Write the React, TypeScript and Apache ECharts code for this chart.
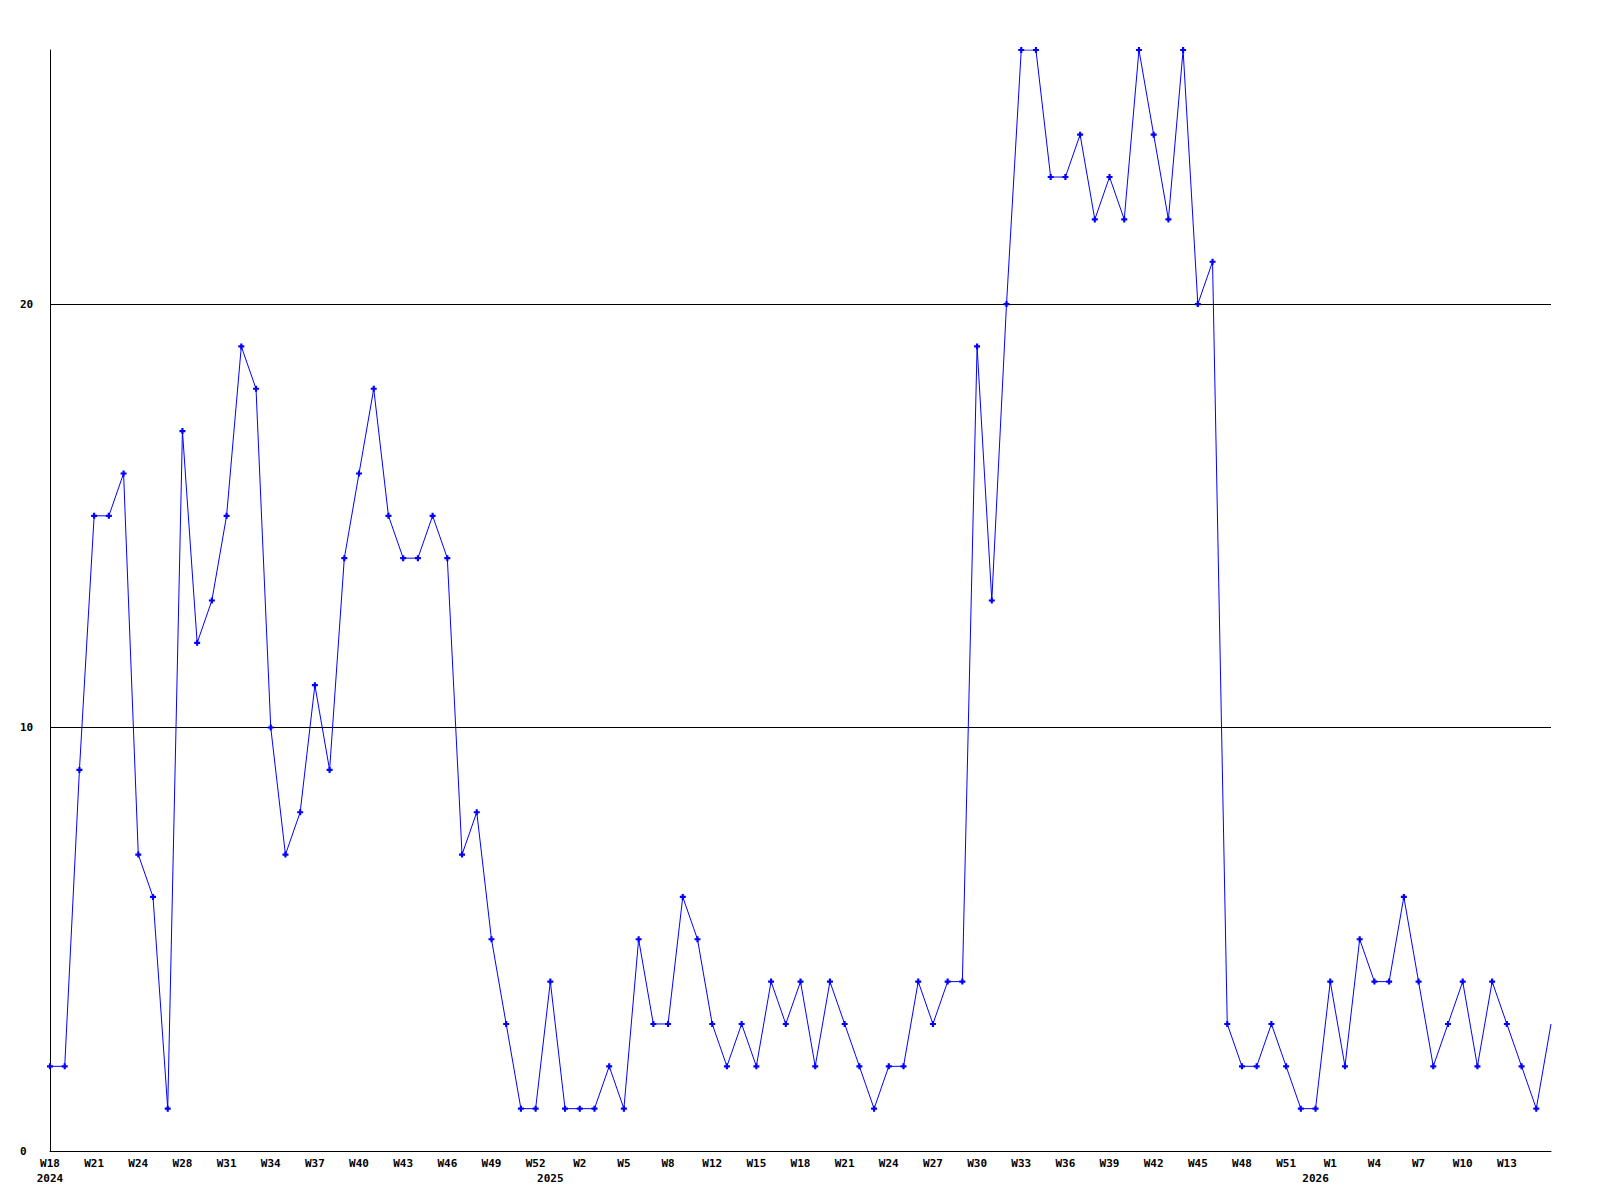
import React, { useEffect, useRef } from "react";
import * as echarts from "echarts";

// 103 weekly points: 2024 W18 .. 2026 W16
const values: number[] = [
  2, 2, 9, 15, 15, 16, 7, 6, 1, 17, 12, 13, 15, 19, 18, 10, 7, 8, 11, 9,
  14, 16, 18, 15, 14, 14, 15, 14, 7, 8, 5, 3, 1, 1, 4, 1, 1, 1, 2, 1,
  5, 3, 3, 6, 5, 3, 2, 3, 2, 4, 3, 4, 2, 4, 3, 2, 1, 2, 2, 4,
  3, 4, 4, 19, 13, 20, 26, 26, 23, 23, 24, 22, 23, 22, 26, 24, 22, 26, 20, 21,
  3, 2, 2, 3, 2, 1, 1, 4, 2, 5, 4, 4, 6, 4, 2, 3, 4, 2, 4, 3,
  2, 1, 3,
];

// tick labels, one every 3 points
const tickLabels: string[] = [
  "W18", "W21", "W24", "W28", "W31", "W34", "W37", "W40", "W43", "W46", "W49", "W52",
  "W2", "W5", "W8", "W12", "W15", "W18", "W21", "W24", "W27", "W30", "W33", "W36",
  "W39", "W42", "W45", "W48", "W51", "W1", "W4", "W7", "W10", "W13",
];

const yearLabels: string[] = ["2024", "2025", "2026"];
const yearIndices: number[] = [0, 34, 86];

const categories: string[] = values.map((_, i) => String(i));

const FONT = "DejaVu Sans Mono";

export default function App() {
  const ref = useRef<HTMLDivElement>(null);
  useEffect(() => {
    document.body.style.margin = "0";
    const chart = echarts.init(ref.current!, null, { renderer: "svg" });
    const lastIdx = values.length - 1;
    chart.setOption({
      animation: false,
      backgroundColor: "#ffffff",
      grid: { left: 50, right: 49, top: 50, bottom: 49, containLabel: false },
      xAxis: [
        {
          type: "category",
          data: categories,
          boundaryGap: false,
          axisLine: { show: true, lineStyle: { color: "#000", width: 1 } },
          axisTick: { show: false },
          splitLine: { show: false },
          axisLabel: {
            interval: 2,
            margin: 7,
            color: "#000",
            fontFamily: FONT,
            fontWeight: "bold",
            fontSize: 11,
            formatter: (_v: string, i: number) => tickLabels[i / 3] ?? "",
          },
        },
        {
          type: "category",
          data: categories,
          boundaryGap: false,
          position: "bottom",
          axisLine: { show: false },
          axisTick: { show: false },
          splitLine: { show: false },
          axisLabel: {
            interval: (i: number) => yearIndices.indexOf(i) >= 0,
            margin: 22,
            color: "#000",
            fontFamily: FONT,
            fontWeight: "bold",
            fontSize: 11,
            formatter: (_v: string, i: number) => {
              const k = yearIndices.indexOf(i);
              return k >= 0 ? yearLabels[k] : "";
            },
          },
        },
      ],
      yAxis: {
        type: "value",
        min: 0,
        max: 26,
        interval: 10,
        axisLine: { show: true, lineStyle: { color: "#000", width: 1 } },
        axisTick: { show: false },
        splitLine: {
          show: true,
          showMinLine: false,
          showMaxLine: false,
          lineStyle: { color: "#000", width: 1 },
        },
        axisLabel: {
          showMaxLabel: false,
          align: "left",
          margin: 30,
          color: "#000",
          fontFamily: FONT,
          fontWeight: "bold",
          fontSize: 11,
        },
      },
      series: [
        {
          type: "line",
          xAxisIndex: 0,
          data: values.map((v, i) =>
            i === lastIdx ? { value: v, symbol: "none" } : v
          ),
          symbol: "path://M1.6,0H3.4V1.6H5V3.4H3.4V5H1.6V3.4H0V1.6H1.6Z",
          symbolSize: 6,
          showSymbol: true,
          showAllSymbol: true,
          lineStyle: { color: "#0000ff", width: 1 },
          itemStyle: { color: "#0000ff" },
        },
      ],
    });
    return () => chart.dispose();
  }, []);
  return <div ref={ref} style={{ width: 1600, height: 1200 }} />;
}
